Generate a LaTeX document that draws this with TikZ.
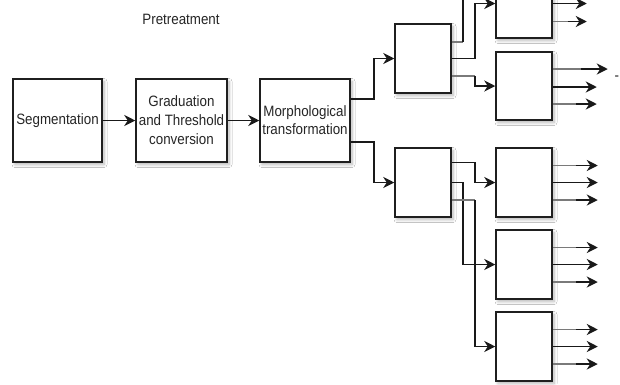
\documentclass[tikz,border=0pt]{standalone}
\usepackage{fontspec}
\setmainfont{Liberation Sans}[FakeStretch=0.89]
\usetikzlibrary{arrows.meta,shadows.blur,calc}
\definecolor{txt}{HTML}{262626}
\definecolor{stub}{HTML}{7A7A7A}
\begin{document}
\begin{tikzpicture}[x=1pt,y=-1pt,
  box/.style={draw=black!88, line width=1.5pt, fill=white, inner sep=0pt, align=center,
    text=txt, font=\fontsize{15}{19}\selectfont,
    blur shadow={shadow xshift=2pt, shadow yshift=-2.5pt, shadow blur radius=3pt, shadow blur steps=6, shadow opacity=30}},
  bigbox/.style={box, minimum width=90pt, minimum height=83pt},
  smallbox/.style={box, minimum width=56pt, minimum height=69pt},
  lbl/.style={text=txt, font=\fontsize{15}{19}\selectfont, inner sep=0pt},
  wire/.style={line width=1.6pt, draw=black!90},
  stubw/.style={line width=1.6pt, draw=stub},
  arr/.style={wire, -{Stealth[length=11pt,width=11pt,inset=3.5pt]}}]
\useasboundingbox (0,0) rectangle (620,384);
\clip (0,0) rectangle (620,384);
\fill[white] (0,0) rectangle (620,384);
\coordinate (top) at (0,-8);

\node[lbl] (pre) at (181,19) {Pretreatment};

\node[bigbox, minimum width=89pt] (seg) at (57.5,120.5) {Segmentation};
\node[bigbox, minimum width=91pt] (grad) at (181.5,120.5) {Graduation\\and Threshold\\conversion};
\node[bigbox, font=\fontsize{15}{18}\selectfont] (morph) at (305,120.5) {Morphological\\transformation};

\node[smallbox] (B1) at (423,58.5) {};
\node[smallbox] (B2) at (423,182.5) {};

\node[smallbox] (C0) at (524,3.5) {};
\node[smallbox, minimum height=68pt] (C1) at (524,86) {};
\node[smallbox] (C2) at (524,182.5) {};
\node[smallbox] (C3) at (524,264.5) {};
\node[smallbox] (C4) at (524,346.5) {};

% pretreatment chain
\draw[arr] (seg) -- (grad);
\draw[arr] (grad) -- (morph);

% morph to B boxes
\draw[arr] ([yshift=21.5pt]morph.east) -- ++(23,0) |- (B1.west);
\draw[arr] ([yshift=-21.5pt]morph.east) -- ++(23,0) |- (B2.west);

% B1 outputs
\draw[stubw] ([yshift=16.5pt]B1.east) -- ++(11,0) coordinate (u1);
\draw[wire] (u1) -- (u1 |- top);
\draw[arr] (B1.east) -- ++(23,0) |- (C0.west);
\draw[stubw] ([yshift=-17.5pt]B1.east) -- ++(23,0) coordinate (u3);
\draw[arr] (u3) |- (C1.west);

% B2 outputs
\draw[arr] ([yshift=20pt]B2.east) -- ++(23,0) |- (C2.west);
\draw[arr] (B2.east) -- ++(11,0) |- (C3.west);
\draw[stubw] ([yshift=-17.5pt]B2.east) -- ++(23,0) coordinate (v3);
\draw[arr] (v3) |- (C4.west);

% C0 outputs
\draw[stubw] ([yshift=17.5pt]C0.east) -- ++(15,0) coordinate (a0);
\draw[arr] (a0) -- ++(19,0);
\draw[arr] (C0.east) -- ++(34,0);
\draw[stubw] ([yshift=-18pt]C0.east) -- ++(15,0) coordinate (c0);
\draw[arr] (c0) -- ++(19,0);

% C1 outputs
\draw[stubw] ([yshift=17pt]C1.east) -- ++(28,0) coordinate (a1);
\draw[arr] (a1) -- ++(27,0);
\draw[arr] ([yshift=-1pt]C1.east) -- ++(44,0);
\draw[stubw] ([yshift=-18pt]C1.east) -- ++(23,0) coordinate (c1);
\draw[arr] (c1) -- ++(21,0);
\node[lbl, anchor=west] (dash) at (614.5,78) {-};

% C2..C4 outputs
\foreach \c in {C2,C3,C4} {
  \draw[stubw] ([yshift=17pt]\c.east) -- ++(23,0) coordinate (p);
  \draw[arr] (p) -- ++(22,0);
  \draw[arr] (\c.east) -- ++(45,0);
  \draw[stubw] ([yshift=-17.5pt]\c.east) -- ++(23,0) coordinate (q);
  \draw[arr] (q) -- ++(22,0);
}
\end{tikzpicture}
\end{document}
